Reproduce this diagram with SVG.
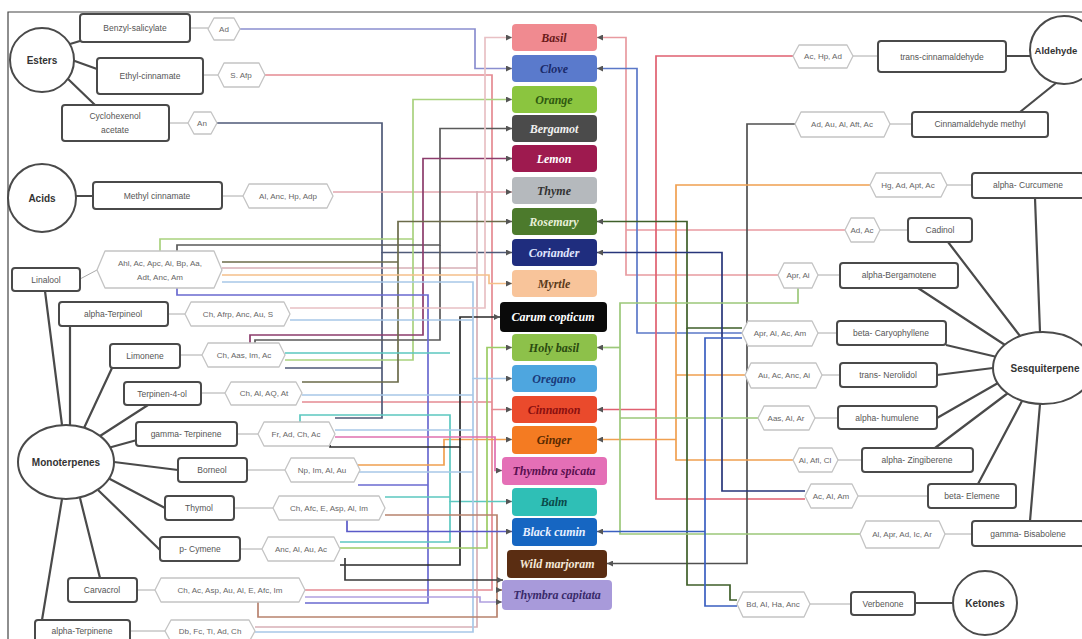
<svg xmlns="http://www.w3.org/2000/svg" width="1082" height="639" viewBox="0 0 1082 639">
<style>
.box{fill:#fff;stroke:#4a4a4a;stroke-width:2}
.hex{fill:#fff;stroke:#c4c4c4;stroke-width:1.3;stroke-linejoin:round}
.t{font-family:"Liberation Sans",Arial,sans-serif;font-size:8.5px;fill:#555;text-anchor:middle;dominant-baseline:central}
.h{font-family:"Liberation Sans",Arial,sans-serif;font-size:8px;fill:#666;text-anchor:middle;dominant-baseline:central}
.cat{font-family:"Liberation Sans",Arial,sans-serif;font-weight:bold;font-size:10px;fill:#333;text-anchor:middle;dominant-baseline:central}
.circ{fill:#fff;stroke:#4a4a4a;stroke-width:2}
.pl{font-family:"Liberation Serif","Times New Roman",serif;font-style:italic;font-weight:bold;font-size:12px;text-anchor:middle;dominant-baseline:central}
.lk{stroke:#4a4a4a;stroke-width:2.2;fill:none}
.th{stroke:#aaa;stroke-width:1;fill:none}
.c{fill:none;stroke-width:1.7}
</style>
<defs>
<marker id="m" viewBox="0 0 8 8" refX="8" refY="4" markerWidth="6" markerHeight="6" orient="auto" markerUnits="userSpaceOnUse"><path d="M0,0 L8,4 L0,8 z" fill="#555"/></marker>
</defs>
<rect width="1082" height="639" fill="#fff"/>
<path d="M8,639 V12 H1082" fill="none" stroke="#444" stroke-width="1.2"/>

<g id="connectors">
<!-- left -->
<path class="c" stroke="#8a8ecf" d="M240,29 H475 V68.5 H512" marker-end="url(#m)"/>
<path class="c" stroke="#e58a92" d="M265,75 H492 V409.5 H512" marker-end="url(#m)"/>
<path class="c" stroke="#e58a92" d="M302,402 H492 M305,590 H492 V409"/>
<path class="c" stroke="#4f5a78" d="M217,123 H382 V252.5 H512" marker-end="url(#m)"/>
<path class="c" stroke="#4f5a78" d="M285,368 H382 V252 M335,418 H382 V360"/>
<path class="c" stroke="#e2a6ae" d="M333,192 H512" marker-end="url(#m)"/>
<path class="c" stroke="#d8b0b6" d="M222,268 H477 V191 M255,627 H477 V268"/>
<path class="c" stroke="#a9d27e" d="M160,252 V239 H413 V99.5 H512" marker-end="url(#m)"/>
<path class="c" stroke="#a9d27e" d="M285,360 H413 V239"/>
<path class="c" stroke="#5a5a5a" d="M177,252 V245 H440 V128.5 H512" marker-end="url(#m)"/>
<path class="c" stroke="#5a5a5a" d="M255,343 V340 H440 V245"/>
<path class="c" stroke="#8c3c6c" d="M250,343 V335 H423 V158.5 H512" marker-end="url(#m)"/>
<path class="c" stroke="#6b6b4a" d="M302,382 H398 V221.5 H512" marker-end="url(#m)"/>
<path class="c" stroke="#6b6b4a" d="M222,262 H398"/>
<path class="c" stroke="#6a6ad0" d="M177,288 V295 H428 V603 H305"/>
<path class="c" stroke="#6a6ad0" d="M358,485 H428"/>
<path class="c" stroke="#f0a050" d="M358,465 H444 V439.5 H512" marker-end="url(#m)"/>
<path class="c" stroke="#5cc8c0" d="M300,422 V415 H450 V501.5 H512" marker-end="url(#m)"/>
<path class="c" stroke="#5cc8c0" d="M385,497 H450 M340,542 H450 V501 M285,353 H450"/>
<path class="c" stroke="#2a2a2a" d="M330,445 V447 H460 V317 H500" marker-end="url(#m)"/>
<path class="c" stroke="#2a2a2a" d="M340,565 H460 V447"/>
<path class="c" stroke="#a8c8e8" d="M222,282 H473 V378.5 H512" marker-end="url(#m)"/>
<path class="c" stroke="#a8c8e8" d="M290,320 H473 M302,395 H473 M358,472 H473 M255,632 H473 V378 M335,430 H473"/>
<path class="c" stroke="#e8c0c4" d="M290,308 H485 V37.5 H512" marker-end="url(#m)"/>
<path class="c" stroke="#9ccc65" d="M340,548 H487 V347.5 H512" marker-end="url(#m)"/>
<path class="c" stroke="#f5c08a" d="M222,275 H489 V283.5 H512" marker-end="url(#m)"/>
<path class="c" stroke="#e070b0" d="M335,437 H495 V470.5 H502" marker-end="url(#m)"/>
<path class="c" stroke="#b8826e" d="M385,515 H497 V617 H258 V602"/>
<path class="c" stroke="#b8826e" d="M497,590 H502" marker-end="url(#m)"/>
<path class="c" stroke="#5a5ac8" d="M347,520 V531.5 H512" marker-end="url(#m)"/>
<path class="c" stroke="#3a3a3a" d="M345,558 V580 H503" marker-end="url(#m)"/>
<path class="c" stroke="#b0a0e0" d="M305,597 H480 V602 H502" marker-end="url(#m)"/>
<!-- right -->
<path class="c" stroke="#e89aa0" d="M778,275 H626 V37.5 H597" marker-end="url(#m)"/>
<path class="c" stroke="#e89aa0" d="M845,230 H626"/>
<path class="c" stroke="#5b78c8" d="M742,333 H637 V68.5 H597" marker-end="url(#m)"/>
<path class="c" stroke="#e06070" d="M793,56 H656 V499 H805"/>
<path class="c" stroke="#e06070" d="M656,409.5 H597" marker-end="url(#m)"/>
<path class="c" stroke="#505050" d="M795,124 H747 V563.5 H607" marker-end="url(#m)"/>
<path class="c" stroke="#f0a050" d="M870,185 H676 V460 H793 M745,375 H676"/>
<path class="c" stroke="#f0a050" d="M676,439.5 H597" marker-end="url(#m)"/>
<path class="c" stroke="#3f5f2a" d="M742,328 H687 V221.5 H597" marker-end="url(#m)"/>
<path class="c" stroke="#3f5f2a" d="M687,328 V585 H730 V600 H737"/>
<path class="c" stroke="#27357a" d="M805,491 H722 V252.5 H597" marker-end="url(#m)"/>
<path class="c" stroke="#9cc87a" d="M798,288 V303 H620 V534 H860 M758,418 H620"/>
<path class="c" stroke="#9cc87a" d="M620,347.5 H597" marker-end="url(#m)"/>
<path class="c" stroke="#3a5fc0" d="M742,338 H705 V606 H737"/>
<path class="c" stroke="#3a5fc0" d="M705,531.5 H597" marker-end="url(#m)"/>
<!-- box to hex -->
<path class="th" d="M190,28 H208 M203,75 H218 M169,123 H188 M222,196 H243 M80,279 L97,270 M168,314 H185 M180,355 H202 M201,393 H225 M237,434 H258 M247,470 H285 M234,508 H273 M240,549 H262 M137,590 H155 M130,631 H165"/>
<path class="th" d="M853,56 H878 M890,124 H912 M947,185 H972 M880,230 H908 M818,275 H840 M818,333 H837 M822,375 H840 M815,418 H838 M838,460 H862 M858,496 H928 M945,534 H972 M810,604 H851"/>
<!-- category links -->
<path class="lk" d="M70,44 L80,41 M72,60 L97,69 M67,78 L95,105 M76,196 H93"/>
<path class="lk" d="M45,291 L62,425 M70,326 L70,425 M112,368 L84,428 M148,405 L100,436 M137,440 L108,448 M178,470 L114,462 M165,508 L108,478 M160,550 L98,490 M100,578 L80,498 M42,620 L62,499"/>
<path class="lk" d="M1006,56 H1030 M1020,112 L1056,83"/>
<path class="lk" d="M1035,198 L1040,332 M948,242 L1020,336 M918,288 L1005,345 M946,345 L997,357 M937,375 L993,368 M937,418 L998,383 M935,448 L1008,393 M978,484 L1022,401 M1030,521 L1040,404 M915,603 H953"/>
</g>

<g id="esters"><circle class="circ" cx="42" cy="60" r="32"/><text class="cat" x="42" y="60">Esters</text></g>
<g id="acids"><circle class="circ" cx="42" cy="198" r="34"/><text class="cat" x="42" y="198">Acids</text></g>
<g id="monoterpenes"><ellipse class="circ" cx="66" cy="462" rx="48" ry="37"/><text class="cat" x="66" y="462">Monoterpenes</text></g>
<g id="aldehyde"><circle class="circ" cx="1064" cy="50" r="34"/><text class="cat" x="1056" y="50" style="font-size:9.5px">Aldehyde</text></g>
<g id="sesquiterpene"><ellipse class="circ" cx="1043" cy="368" rx="50" ry="36"/><text class="cat" x="1045" y="368">Sesquiterpene</text></g>
<g id="ketones"><circle class="circ" cx="985" cy="603" r="32"/><text class="cat" x="985" y="603">Ketones</text></g>

<g id="benzyl"><rect class="box" x="80" y="14" width="110" height="28" rx="3"/><text class="t" x="135" y="28">Benzyl-salicylate</text></g>
<g id="ethyl"><rect class="box" x="97" y="58" width="106" height="36" rx="3"/><text class="t" x="150" y="76">Ethyl-cinnamate</text></g>
<g id="cyclo"><rect class="box" x="62" y="105" width="107" height="36" rx="3"/><text class="t" x="115" y="116">Cyclohexenol</text><text class="t" x="115" y="130">acetate</text></g>
<g id="methyl"><rect class="box" x="93" y="182" width="129" height="27" rx="3"/><text class="t" x="157" y="196">Methyl cinnamate</text></g>
<g id="linalool"><rect class="box" x="12" y="268" width="68" height="23" rx="3"/><text class="t" x="46" y="280">Linalool</text></g>
<g id="aterpineol"><rect class="box" x="59" y="302" width="109" height="24" rx="3"/><text class="t" x="113" y="314">alpha-Terpineol</text></g>
<g id="limonene"><rect class="box" x="110" y="344" width="70" height="24" rx="3"/><text class="t" x="145" y="356">Limonene</text></g>
<g id="terpinen4ol"><rect class="box" x="124" y="382" width="77" height="23" rx="3"/><text class="t" x="162" y="394">Terpinen-4-ol</text></g>
<g id="gterpinene"><rect class="box" x="136" y="422" width="101" height="24" rx="3"/><text class="t" x="186" y="434">gamma- Terpinene</text></g>
<g id="borneol"><rect class="box" x="178" y="458" width="69" height="24" rx="3"/><text class="t" x="212" y="470">Borneol</text></g>
<g id="thymol"><rect class="box" x="165" y="496" width="69" height="24" rx="3"/><text class="t" x="199" y="508">Thymol</text></g>
<g id="pcymene"><rect class="box" x="160" y="537" width="80" height="24" rx="3"/><text class="t" x="200" y="549">p- Cymene</text></g>
<g id="carvacrol"><rect class="box" x="68" y="578" width="69" height="24" rx="3"/><text class="t" x="102" y="590">Carvacrol</text></g>
<g id="aterpinene"><rect class="box" x="35" y="620" width="95" height="22" rx="3"/><text class="t" x="82" y="631">alpha-Terpinene</text></g>

<g id="h-ad"><polygon class="hex" points="214,18 234,18 240,29 234,40 214,40 208,29"/><text class="h" x="224" y="29">Ad</text></g>
<g id="h-safp"><polygon class="hex" points="224,63 259,63 265,75 259,87 224,87 218,75"/><text class="h" x="241" y="75">S. Afp</text></g>
<g id="h-an"><polygon class="hex" points="194,112 211,112 217,123 211,134 194,134 188,123"/><text class="h" x="202" y="123">An</text></g>
<g id="h-methyl"><polygon class="hex" points="249,184 327,184 333,196 327,208 249,208 243,196"/><text class="h" x="288" y="196">Al, Anc, Hp, Adp</text></g>
<g id="h-linalool"><polygon class="hex" points="105,251 214,251 222,270 214,288 105,288 97,270"/><text class="h" x="160" y="263">Ahl, Ac, Apc, Ai, Bp, Aa,</text><text class="h" x="160" y="277">Adt, Anc, Am</text></g>
<g id="h-aterpineol"><polygon class="hex" points="191,302 284,302 290,314 284,326 191,326 185,314"/><text class="h" x="238" y="314">Ch, Afrp, Anc, Au, S</text></g>
<g id="h-limonene"><polygon class="hex" points="208,343 279,343 285,355 279,367 208,367 202,355"/><text class="h" x="244" y="355">Ch, Aas, Im, Ac</text></g>
<g id="h-t4ol"><polygon class="hex" points="231,382 296,382 302,393 296,405 231,405 225,393"/><text class="h" x="264" y="393">Ch, Al, AQ, At</text></g>
<g id="h-gterp"><polygon class="hex" points="264,422 329,422 335,434 329,446 264,446 258,434"/><text class="h" x="296" y="434">Fr, Ad, Ch, Ac</text></g>
<g id="h-borneol"><polygon class="hex" points="291,458 354,458 360,470 354,482 291,482 285,470"/><text class="h" x="322" y="470">Np, Im, Al, Au</text></g>
<g id="h-thymol"><polygon class="hex" points="279,496 379,496 385,508 379,520 279,520 273,508"/><text class="h" x="329" y="508">Ch, Afc, E, Asp, Al, Im</text></g>
<g id="h-pcymene"><polygon class="hex" points="268,537 334,537 340,549 334,561 268,561 262,549"/><text class="h" x="301" y="549">Anc, Al, Au, Ac</text></g>
<g id="h-carvacrol"><polygon class="hex" points="161,578 299,578 305,590 299,602 161,602 155,590"/><text class="h" x="230" y="590">Ch, Ac, Asp, Au, Al, E, Afc, Im</text></g>
<g id="h-aterpinene"><polygon class="hex" points="171,620 249,620 255,631 249,642 171,642 165,631"/><text class="h" x="210" y="631">Db, Fc, Ti, Ad, Ch</text></g>

<g id="transcinn"><rect class="box" x="878" y="41" width="128" height="31" rx="3"/><text class="t" x="942" y="57">trans-cinnamaldehyde</text></g>
<g id="cinnmethyl"><rect class="box" x="912" y="112" width="136" height="25" rx="3"/><text class="t" x="980" y="124">Cinnamaldehyde methyl</text></g>
<g id="acurcumene"><rect class="box" x="972" y="173" width="112" height="25" rx="3"/><text class="t" x="1028" y="185">alpha- Curcumene</text></g>
<g id="cadinol"><rect class="box" x="908" y="218" width="64" height="24" rx="3"/><text class="t" x="940" y="230">Cadinol</text></g>
<g id="abergamotene"><rect class="box" x="840" y="263" width="118" height="25" rx="3"/><text class="t" x="899" y="275">alpha-Bergamotene</text></g>
<g id="bcaryophyllene"><rect class="box" x="837" y="321" width="109" height="24" rx="3"/><text class="t" x="891" y="333">beta- Caryophyllene</text></g>
<g id="tnerolidol"><rect class="box" x="840" y="363" width="97" height="24" rx="3"/><text class="t" x="888" y="375">trans- Nerolidol</text></g>
<g id="ahumulene"><rect class="box" x="838" y="406" width="99" height="23" rx="3"/><text class="t" x="887" y="418">alpha- humulene</text></g>
<g id="azingiberene"><rect class="box" x="862" y="448" width="111" height="24" rx="3"/><text class="t" x="917" y="460">alpha- Zingiberene</text></g>
<g id="belemene"><rect class="box" x="928" y="484" width="88" height="24" rx="3"/><text class="t" x="972" y="496">beta- Elemene</text></g>
<g id="gbisabolene"><rect class="box" x="972" y="521" width="112" height="25" rx="3"/><text class="t" x="1028" y="534">gamma- Bisabolene</text></g>
<g id="verbenone"><rect class="box" x="851" y="592" width="64" height="23" rx="3"/><text class="t" x="883" y="604">Verbenone</text></g>

<g id="h-transcinn"><polygon class="hex" points="799,45 847,45 853,56 847,68 799,68 793,56"/><text class="h" x="823" y="56">Ac, Hp, Ad</text></g>
<g id="h-cinnmethyl"><polygon class="hex" points="801,112 884,112 890,124 884,137 801,137 795,124"/><text class="h" x="842" y="124">Ad, Au, Al, Aft, Ac</text></g>
<g id="h-acurc"><polygon class="hex" points="876,173 941,173 947,185 941,197 876,197 870,185"/><text class="h" x="908" y="185">Hg, Ad, Apt, Ac</text></g>
<g id="h-cadinol"><polygon class="hex" points="851,218 874,218 880,230 874,242 851,242 845,230"/><text class="h" x="862" y="230">Ad, Ac</text></g>
<g id="h-aberg"><polygon class="hex" points="784,263 812,263 818,275 812,288 784,288 778,275"/><text class="h" x="798" y="275">Apr, Ai</text></g>
<g id="h-bcary"><polygon class="hex" points="748,321 812,321 818,333 812,346 748,346 742,333"/><text class="h" x="780" y="333">Apr, Al, Ac, Am</text></g>
<g id="h-tnero"><polygon class="hex" points="751,363 816,363 822,375 816,388 751,388 745,375"/><text class="h" x="784" y="375">Au, Ac, Anc, Ai</text></g>
<g id="h-ahum"><polygon class="hex" points="764,406 809,406 815,418 809,430 764,430 758,418"/><text class="h" x="786" y="418">Aas, Al, Ar</text></g>
<g id="h-azing"><polygon class="hex" points="799,448 832,448 838,460 832,472 799,472 793,460"/><text class="h" x="815" y="460">Ai, Afl, Cl</text></g>
<g id="h-belem"><polygon class="hex" points="811,484 852,484 858,496 852,508 811,508 805,496"/><text class="h" x="831" y="496">Ac, Al, Am</text></g>
<g id="h-gbisa"><polygon class="hex" points="866,521 939,521 945,534 939,548 866,548 860,534"/><text class="h" x="902" y="534">Al, Apr, Ad, Ic, Ar</text></g>
<g id="h-verb"><polygon class="hex" points="743,592 804,592 810,604 804,617 743,617 737,604"/><text class="h" x="773" y="604">Bd, Al, Ha, Anc</text></g>

<g id="basil"><rect x="512" y="24" width="85" height="27" rx="4" fill="#f08a90"/><text class="pl" x="554" y="38" fill="#6a1a1a">Basil</text></g>
<g id="clove"><rect x="512" y="55" width="85" height="27" rx="4" fill="#5a7acc"/><text class="pl" x="554" y="69" fill="#1a2a6a">Clove</text></g>
<g id="orange"><rect x="512" y="86" width="85" height="27" rx="4" fill="#8bc53f"/><text class="pl" x="554" y="100" fill="#2f5a10">Orange</text></g>
<g id="bergamot"><rect x="512" y="115" width="85" height="27" rx="4" fill="#4b4b4b"/><text class="pl" x="554" y="129" fill="#f0f0f0">Bergamot</text></g>
<g id="lemon"><rect x="512" y="145" width="85" height="27" rx="4" fill="#9e1a4f"/><text class="pl" x="554" y="159" fill="#fff">Lemon</text></g>
<g id="thyme"><rect x="512" y="177" width="85" height="27" rx="4" fill="#b5b9bd"/><text class="pl" x="554" y="191" fill="#333">Thyme</text></g>
<g id="rosemary"><rect x="512" y="208" width="85" height="27" rx="4" fill="#4c7a2c"/><text class="pl" x="554" y="222" fill="#e8f0d8">Rosemary</text></g>
<g id="coriander"><rect x="512" y="239" width="85" height="27" rx="4" fill="#1f2d7e"/><text class="pl" x="554" y="253" fill="#e0e6ff">Coriander</text></g>
<g id="myrtle"><rect x="512" y="270" width="85" height="27" rx="4" fill="#f8c49a"/><text class="pl" x="554" y="284" fill="#5a3a1a">Myrtle</text></g>
<g id="carum"><rect x="500" y="302" width="107" height="30" rx="4" fill="#0a0a0a"/><text class="pl" x="553" y="317" fill="#fff">Carum copticum</text></g>
<g id="holybasil"><rect x="512" y="334" width="85" height="27" rx="4" fill="#8dc14a"/><text class="pl" x="554" y="348" fill="#2a4a10">Holy basil</text></g>
<g id="oregano"><rect x="512" y="365" width="85" height="27" rx="4" fill="#4ea6df"/><text class="pl" x="554" y="379" fill="#1a3a7a">Oregano</text></g>
<g id="cinnamon"><rect x="512" y="396" width="85" height="27" rx="4" fill="#ea4a2c"/><text class="pl" x="554" y="410" fill="#8a1010">Cinnamon</text></g>
<g id="ginger"><rect x="512" y="426" width="85" height="28" rx="4" fill="#f47b22"/><text class="pl" x="554" y="440" fill="#5a2a00">Ginger</text></g>
<g id="tspicata"><rect x="502" y="457" width="105" height="28" rx="4" fill="#e46fb6"/><text class="pl" x="554" y="471" fill="#5a1050">Thymbra spicata</text></g>
<g id="balm"><rect x="512" y="488" width="85" height="28" rx="4" fill="#2fbfb6"/><text class="pl" x="554" y="502" fill="#0a4a4a">Balm</text></g>
<g id="blackcumin"><rect x="512" y="518" width="85" height="28" rx="4" fill="#1666c2"/><text class="pl" x="554" y="532" fill="#e8f0ff">Black cumin</text></g>
<g id="wildmarjoram"><rect x="507" y="550" width="100" height="28" rx="4" fill="#5a2d12"/><text class="pl" x="557" y="564" fill="#f5e8d8">Wild marjoram</text></g>
<g id="tcapitata"><rect x="502" y="580" width="110" height="30" rx="4" fill="#a89ada"/><text class="pl" x="557" y="595" fill="#3a2a6a">Thymbra capitata</text></g>
</svg>
